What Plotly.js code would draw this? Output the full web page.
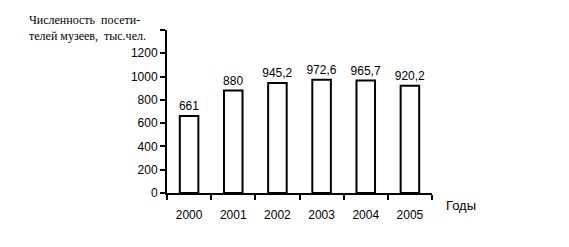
<!DOCTYPE html>
<html><head><meta charset="utf-8">
<script src="https://cdn.plot.ly/plotly-3.0.1.min.js"></script>
<style>html,body{margin:0;padding:0;background:#fff}</style>
</head><body>
<div id="chart" style="width:569px;height:247px"></div>
<script>
const years = ['2000','2001','2002','2003','2004','2005'];
const visitors = [661, 880, 945.2, 972.6, 965.7, 920.2];
const valueLabels = ['661','880','945,2','972,6','965,7','920,2'];
const yTickVals = [0,200,400,600,800,1000,1200,1400];
const yTickText = ['0','200','400','600','800','1000','1200',''];

Plotly.newPlot('chart', [{
  type:'bar', x: years, y: visitors, text: valueLabels,
  textposition:'outside', cliponaxis:false, constraintext:'none',
  textfont:{family:'Liberation Sans, Arial', size:12, color:'#000'},
  marker:{color:'#fff', line:{color:'#000', width:2}},
  width:0.42, hoverinfo:'none'
}], {
  width:569, height:247,
  margin:{l:167, r:137, t:30, b:54},
  paper_bgcolor:'#fff', plot_bgcolor:'#fff',
  showlegend:false,
  xaxis:{type:'category', tickson:'boundaries', ticks:'outside', ticklen:5, tickwidth:2, tickcolor:'#000',
    showline:true, linecolor:'#000', linewidth:2, showgrid:false, zeroline:false, ticklabelstandoff:10,
    tickfont:{family:'Liberation Sans, Arial', size:12, color:'#000'}, fixedrange:true},
  yaxis:{range:[0,1400], tickmode:'array', tickvals:yTickVals, ticktext:yTickText,
    ticks:'outside', ticklen:5, tickwidth:2, tickcolor:'#000', showline:true, linecolor:'#000', linewidth:2,
    showgrid:false, zeroline:false, tickfont:{family:'Liberation Sans, Arial', size:12, color:'#000'}, fixedrange:true},
  annotations:[
    {text:'Годы', xref:'paper', yref:'paper', x:1, y:0, xanchor:'left', yanchor:'middle', xshift:12, yshift:-12, showarrow:false,
     font:{family:'Liberation Sans, Arial', size:13, color:'#000'}},
    {text:'Численность  посети-<br>телей музеев,  тыс.чел.', xref:'paper', yref:'paper', x:(27-167)/265, y:1+(30-11)/163,
     xanchor:'left', yanchor:'top', align:'left', showarrow:false,
     font:{family:'Liberation Serif', size:12, color:'#000'}}
  ]
}, {staticPlot:true});
</script>
</body></html>
